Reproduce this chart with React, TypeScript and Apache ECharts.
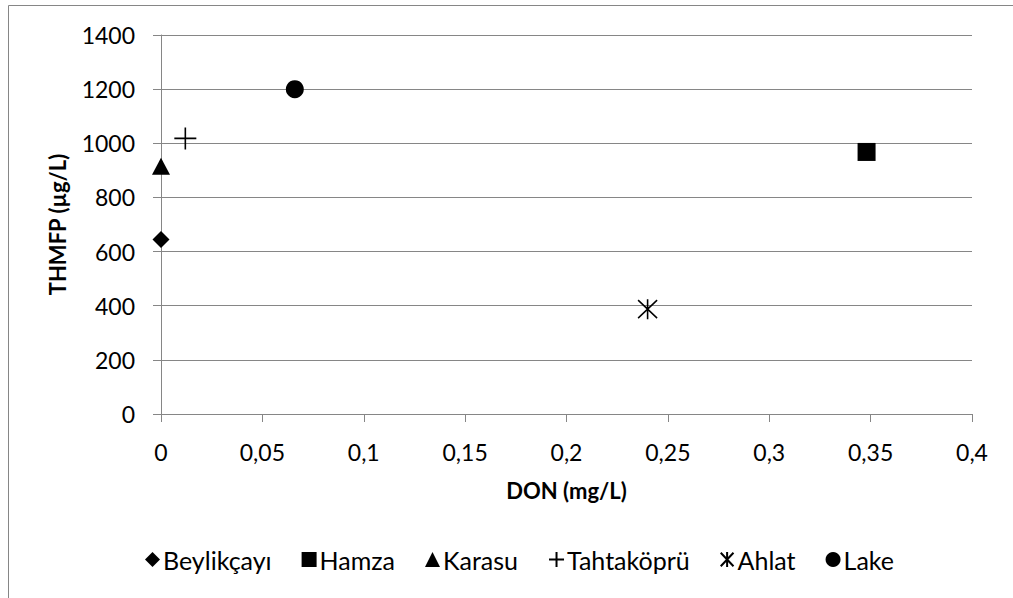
import React, { useEffect, useRef } from "react";
import * as echarts from "echarts";

const seriesNames = ["Beylikçayı", "Hamza", "Karasu", "Tahtaköprü", "Ahlat", "Lake"];
const donValues = [0, 0.348, 0, 0.012, 0.24, 0.066];
const thmfpValues = [645, 968, 915, 1018, 387, 1200];
const xTicks = [0, 0.05, 0.1, 0.15, 0.2, 0.25, 0.3, 0.35, 0.4];
const yTicks = [0, 200, 400, 600, 800, 1000, 1200, 1400];

const PLUS = "path://M0,-10L0,10M-10,0L10,0";
const STAR = "path://M0,-10L0,10M-8.5,-9L8.5,9M-8.5,9L8.5,-9";

const symbols: any[] = [
  { symbol: "diamond", size: 17, stroke: false },
  { symbol: "rect", size: 18, stroke: false },
  { symbol: "triangle", size: [18, 17], stroke: false },
  { symbol: PLUS, size: 22, stroke: true },
  { symbol: STAR, size: [19, 20], stroke: true },
  { symbol: "circle", size: 18, stroke: false },
];

const FONT = "Lato";
const GRAY = "#868686";

export default function App() {
  const ref = useRef<HTMLDivElement>(null);
  useEffect(() => {
    document.body.style.margin = "0";
    if (!ref.current) return;
    const chart = echarts.init(ref.current, null, { renderer: "svg" });
    const series = seriesNames.map((name, i) => {
      const s = symbols[i];
      return {
        name,
        type: "scatter",
        data: [[donValues[i], thmfpValues[i]]],
        symbol: s.symbol,
        symbolSize: s.size,
        itemStyle: s.stroke
          ? { color: "rgba(0,0,0,0)", borderColor: "#000", borderWidth: 1.6, opacity: 1 }
          : { color: "#000", opacity: 1 },
        emphasis: { disabled: true },
      };
    });
    chart.setOption({
      animation: false,
      backgroundColor: "#fff",
      textStyle: { fontFamily: FONT },
      graphic: [
        {
          type: "rect",
          shape: { x: 8.5, y: 5.5, width: 1100, height: 700 },
          style: { fill: "none", stroke: GRAY, lineWidth: 1 },
          silent: true,
        },
      ],
      grid: { left: 161, right: 41, top: 35, bottom: 184 },
      xAxis: {
        type: "value",
        min: xTicks[0],
        max: xTicks[xTicks.length - 1],
        interval: 0.05,
        name: "DON (mg/L)",
        nameLocation: "middle",
        nameGap: 65,
        nameMoveOverlap: false,
        nameTextStyle: { fontFamily: FONT, fontSize: 22, fontWeight: "bold", color: "#000" },
        axisLine: { show: true, onZero: false, lineStyle: { color: GRAY, width: 1 } },
        axisTick: { show: true, length: 8, lineStyle: { color: GRAY } },
        axisLabel: {
          margin: 26,
          fontSize: 23,
          color: "#000",
          fontFamily: FONT,
          formatter: (v: number) => String(+v.toFixed(2)).replace(".", ","),
        },
        splitLine: { show: false },
      },
      yAxis: {
        type: "value",
        min: yTicks[0],
        max: yTicks[yTicks.length - 1],
        interval: 200,
        name: "THMFP (µg/L)",
        nameLocation: "middle",
        nameGap: 93,
        nameRotate: 90,
        nameMoveOverlap: false,
        nameTextStyle: { fontFamily: FONT, fontSize: 22, fontWeight: "bold", color: "#000" },
        axisLine: { show: true, lineStyle: { color: GRAY, width: 1 } },
        axisTick: { show: true, length: 8, lineStyle: { color: GRAY } },
        axisLabel: {
          margin: 26,
          fontSize: 23,
          color: "#000",
          fontFamily: FONT,
          formatter: (v: number) => String(v),
        },
        splitLine: { show: true, lineStyle: { color: GRAY, width: 1 } },
      },
      legend: {
        data: seriesNames,
        top: 542,
        left: 140,
        itemWidth: 15,
        itemHeight: 15,
        itemGap: 30,
        textStyle: { fontFamily: FONT, fontSize: 25, color: "#000", padding: [0, 0, 0, -2] },
      },
      series,
    });
    return () => chart.dispose();
  }, []);
  return <div ref={ref} style={{ width: 1013, height: 598 }} />;
}
